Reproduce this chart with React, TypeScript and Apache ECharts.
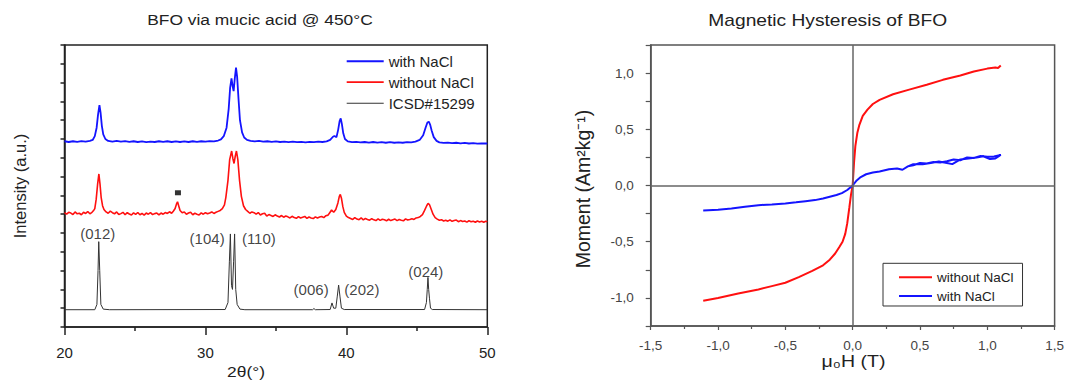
import React, { useEffect, useRef } from 'react';
import * as echarts from 'echarts';

// ---------- XRD panel (2θ in degrees, stacked intensity in offset units) ----------
const xrdWithNaCl: [number, number][] = [
  [20.0, 9.88], [20.3, 9.84], [20.6, 9.88], [20.9, 9.85], [21.2, 9.89], [21.5, 9.86], [21.8, 9.9], [22.0, 9.95],
  [22.15, 10.15], [22.28, 10.6], [22.38, 11.3], [22.48, 11.8], [22.56, 11.4], [22.65, 10.7], [22.75, 10.25], [22.9, 10.0],
  [23.1, 9.9], [23.4, 9.86], [23.7, 9.9], [24.0, 9.86], [24.3, 9.89], [24.6, 9.85], [24.9, 9.88], [25.2, 9.84],
  [25.5, 9.87], [25.8, 9.83], [26.1, 9.86], [26.4, 9.84], [26.7, 9.88], [27.0, 9.85], [27.3, 9.88], [27.6, 9.84],
  [27.9, 9.87], [28.2, 9.84], [28.5, 9.87], [28.8, 9.84], [29.1, 9.88], [29.4, 9.85], [29.7, 9.88], [30.0, 9.86],
  [30.3, 9.89], [30.6, 9.87], [30.9, 9.92], [31.1, 9.98], [31.3, 10.15], [31.5, 10.6], [31.65, 11.6], [31.75, 12.7],
  [31.85, 13.23], [31.93, 12.8], [32.0, 12.55], [32.08, 13.2], [32.17, 13.8], [32.25, 13.3], [32.35, 12.1], [32.45, 11.0],
  [32.6, 10.35], [32.75, 10.08], [32.95, 9.95], [33.2, 9.9], [33.5, 9.87], [33.8, 9.9], [34.1, 9.86], [34.4, 9.88],
  [34.7, 9.85], [35.0, 9.87], [35.3, 9.84], [35.6, 9.86], [35.9, 9.83], [36.2, 9.86], [36.5, 9.83], [36.8, 9.85],
  [37.1, 9.82], [37.4, 9.85], [37.7, 9.83], [38.0, 9.86], [38.3, 9.84], [38.6, 9.87], [38.85, 9.95], [39.05, 10.12],
  [39.15, 10.16], [39.3, 10.1], [39.42, 10.5], [39.52, 10.95], [39.6, 11.1], [39.68, 10.8], [39.78, 10.3], [39.9, 10.0],
  [40.1, 9.87], [40.4, 9.83], [40.7, 9.85], [41.0, 9.82], [41.3, 9.84], [41.6, 9.81], [41.9, 9.84], [42.2, 9.81],
  [42.5, 9.83], [42.8, 9.8], [43.1, 9.83], [43.4, 9.8], [43.7, 9.82], [44.0, 9.8], [44.3, 9.83], [44.6, 9.82],
  [44.9, 9.86], [45.2, 9.95], [45.45, 10.2], [45.62, 10.6], [45.75, 10.88], [45.85, 10.92], [45.95, 10.75], [46.05, 10.45],
  [46.2, 10.1], [46.4, 9.9], [46.6, 9.82], [46.9, 9.79], [47.2, 9.81], [47.5, 9.78], [47.8, 9.8], [48.1, 9.77],
  [48.4, 9.79], [48.7, 9.76], [49.0, 9.78], [49.3, 9.75], [49.6, 9.77], [50.0, 9.76],
];

const xrdWithoutNaCl: [number, number][] = [
  [20.0, 6.08], [20.15, 6.0], [20.3, 6.1], [20.45, 6.06], [20.6, 5.98], [20.75, 6.12], [20.9, 6.02], [21.05, 6.05],
  [21.2, 5.97], [21.35, 6.1], [21.5, 6.04], [21.65, 6.14], [21.8, 6.02], [21.95, 6.1], [22.05, 6.18], [22.15, 6.3],
  [22.25, 6.8], [22.35, 7.6], [22.44, 8.14], [22.52, 7.6], [22.6, 6.9], [22.7, 6.45], [22.8, 6.25], [22.95, 6.12],
  [23.1, 6.05], [23.25, 6.16], [23.4, 6.08], [23.55, 6.02], [23.7, 6.12], [23.85, 5.98], [24.0, 6.03], [24.15, 6.1],
  [24.3, 5.97], [24.45, 6.08], [24.6, 6.01], [24.75, 5.96], [24.9, 6.07], [25.05, 5.99], [25.2, 6.09], [25.35, 5.97],
  [25.5, 6.04], [25.65, 5.95], [25.8, 6.06], [25.95, 6.0], [26.1, 6.08], [26.25, 5.98], [26.4, 6.03], [26.55, 6.06],
  [26.7, 5.96], [26.85, 6.06], [27.0, 6.0], [27.15, 6.09], [27.3, 6.04], [27.45, 6.13], [27.6, 6.05], [27.72, 6.16],
  [27.85, 6.3], [27.95, 6.55], [28.02, 6.66], [28.1, 6.45], [28.2, 6.2], [28.35, 6.08], [28.5, 6.12], [28.65, 6.0],
  [28.8, 6.06], [28.95, 6.1], [29.1, 5.97], [29.25, 6.05], [29.4, 6.0], [29.55, 5.96], [29.7, 6.07], [29.85, 6.0],
  [30.0, 6.08], [30.15, 6.02], [30.3, 6.06], [30.45, 6.12], [30.6, 6.04], [30.75, 6.1], [30.9, 6.15], [31.05, 6.2],
  [31.2, 6.3], [31.35, 6.5], [31.45, 6.9], [31.6, 7.8], [31.72, 8.9], [31.86, 9.36], [31.95, 8.95], [32.03, 8.7],
  [32.12, 9.1], [32.2, 9.36], [32.3, 8.9], [32.42, 7.8], [32.55, 6.95], [32.7, 6.45], [32.85, 6.25], [33.0, 6.15],
  [33.15, 6.05], [33.3, 6.12], [33.45, 6.08], [33.6, 6.0], [33.75, 6.09], [33.9, 5.96], [34.05, 6.02], [34.2, 6.05],
  [34.35, 5.9], [34.5, 5.98], [34.65, 5.93], [34.8, 5.88], [34.95, 5.97], [35.1, 5.9], [35.25, 5.85], [35.4, 5.93],
  [35.55, 5.84], [35.7, 5.9], [35.85, 5.86], [36.0, 5.8], [36.15, 5.89], [36.3, 5.82], [36.45, 5.78], [36.6, 5.87],
  [36.75, 5.8], [36.9, 5.84], [37.05, 5.88], [37.2, 5.78], [37.35, 5.85], [37.5, 5.8], [37.65, 5.77], [37.8, 5.86],
  [37.95, 5.8], [38.1, 5.85], [38.25, 5.88], [38.4, 5.82], [38.55, 5.92], [38.7, 5.95], [38.82, 6.08], [38.95, 6.22],
  [39.1, 6.1], [39.25, 6.25], [39.4, 6.6], [39.5, 6.95], [39.57, 7.05], [39.65, 6.85], [39.75, 6.4], [39.85, 6.1],
  [40.0, 5.9], [40.15, 5.82], [40.3, 5.77], [40.45, 5.72], [40.6, 5.82], [40.75, 5.74], [40.9, 5.71], [41.05, 5.8],
  [41.2, 5.7], [41.35, 5.77], [41.5, 5.72], [41.65, 5.68], [41.8, 5.76], [41.95, 5.7], [42.1, 5.66], [42.25, 5.75],
  [42.4, 5.67], [42.55, 5.73], [42.7, 5.7], [42.85, 5.65], [43.0, 5.73], [43.15, 5.66], [43.3, 5.7], [43.45, 5.74],
  [43.6, 5.66], [43.75, 5.72], [43.9, 5.68], [44.05, 5.65], [44.2, 5.75], [44.35, 5.69], [44.5, 5.72], [44.65, 5.76],
  [44.8, 5.72], [44.95, 5.8], [45.1, 5.82], [45.25, 5.88], [45.4, 5.98], [45.55, 6.2], [45.7, 6.45], [45.8, 6.58],
  [45.9, 6.5], [46.0, 6.3], [46.15, 6.0], [46.3, 5.82], [46.45, 5.74], [46.6, 5.68], [46.75, 5.71], [46.9, 5.64],
  [47.05, 5.68], [47.2, 5.63], [47.35, 5.7], [47.5, 5.62], [47.65, 5.66], [47.8, 5.69], [47.95, 5.6], [48.1, 5.66],
  [48.25, 5.61], [48.4, 5.64], [48.55, 5.58], [48.7, 5.65], [48.85, 5.6], [49.0, 5.63], [49.15, 5.57], [49.3, 5.64],
  [49.45, 5.59], [49.6, 5.62], [49.75, 5.57], [49.9, 5.63], [50.0, 5.6],
];

const xrdICSD: [number, number][] = [
  [20.0, 0.92], [22.15, 0.92], [22.3, 1.2], [22.38, 3.0], [22.43, 4.54], [22.5, 3.0], [22.58, 1.2], [22.75, 0.95],
  [23.2, 0.92], [31.4, 0.93], [31.6, 1.3], [31.7, 3.5], [31.77, 4.95], [31.85, 2.2], [31.92, 2.0], [32.0, 3.5],
  [32.07, 4.95], [32.15, 2.0], [32.25, 1.2], [32.45, 0.95], [32.8, 0.92], [37.6, 0.92], [37.7, 0.98], [37.8, 0.92],
  [38.85, 0.93], [38.98, 1.28], [39.1, 1.0], [39.25, 1.0], [39.35, 1.6], [39.45, 2.23], [39.55, 1.6], [39.65, 1.0],
  [39.85, 0.93], [45.55, 0.93], [45.68, 1.3], [45.74, 2.0], [45.79, 2.64], [45.84, 2.0], [45.9, 1.5], [45.97, 1.0],
  [46.1, 0.93], [50.0, 0.92],
];

const impurityMark: [number, number][] = [[28.05, 7.14]];

const hklLabels = [
  { name: '(012)', value: [22.36, 4.98] },
  { name: '(104)', value: [30.12, 4.72] },
  { name: '(110)', value: [33.79, 4.72] },
  { name: '(006)', value: [37.5, 1.97] },
  { name: '(202)', value: [41.1, 2.02] },
  { name: '(024)', value: [45.64, 2.95] },
];

// ---------- Hysteresis panel (μ0H in T, moment in Am²/kg) ----------
const hystWithoutNaCl: [number, number][] = [
  [-1.11, -1.025], [-1.0, -1.0], [-0.85, -0.96], [-0.7, -0.925], [-0.6, -0.895], [-0.5, -0.865], [-0.4, -0.815],
  [-0.3, -0.76], [-0.22, -0.71], [-0.17, -0.66], [-0.13, -0.605], [-0.1, -0.55], [-0.075, -0.5], [-0.055, -0.43],
  [-0.04, -0.335], [-0.025, -0.2], [-0.012, -0.08], [0.0, 0.0], [0.01, 0.2], [0.02, 0.35], [0.035, 0.47],
  [0.05, 0.54], [0.075, 0.62], [0.11, 0.675], [0.15, 0.725], [0.2, 0.762], [0.3, 0.812], [0.42, 0.853],
  [0.55, 0.897], [0.67, 0.94], [0.8, 0.978], [0.9, 1.014], [1.0, 1.04], [1.06, 1.05], [1.08, 1.045], [1.1, 1.068],
];

const hystWithNaCl: [number, number][] = [
  [-1.11, -0.222], [-1.0, -0.215], [-0.9, -0.205], [-0.8, -0.19], [-0.7, -0.175], [-0.6, -0.168], [-0.5, -0.16],
  [-0.42, -0.15], [-0.35, -0.14], [-0.28, -0.13], [-0.22, -0.115], [-0.17, -0.1], [-0.12, -0.085], [-0.08, -0.068],
  [-0.04, -0.04], [0.0, 0.0], [0.03, 0.045], [0.06, 0.075], [0.1, 0.1], [0.15, 0.115], [0.2, 0.125], [0.27, 0.145],
  [0.33, 0.152], [0.37, 0.14], [0.41, 0.17], [0.45, 0.19], [0.52, 0.19], [0.58, 0.2], [0.64, 0.214], [0.7, 0.2],
  [0.74, 0.19], [0.8, 0.232], [0.86, 0.24], [0.92, 0.25], [0.97, 0.26], [1.02, 0.235], [1.06, 0.24], [1.1, 0.272],
  [1.05, 0.258], [1.0, 0.255], [0.95, 0.262], [0.9, 0.245], [0.85, 0.25], [0.8, 0.225], [0.75, 0.232], [0.7, 0.215],
  [0.65, 0.205], [0.6, 0.21], [0.55, 0.195], [0.5, 0.2], [0.45, 0.18], [0.41, 0.17],
];

const FONT = '"Liberation Sans", Arial, sans-serif';
const BLUE = '#1414ff';
const RED = '#ff1010';
const BLACK = '#222';

const commaFmt = (v: number) => v.toFixed(1).replace('.', ',');

export default function App() {
  const ref = useRef<HTMLDivElement>(null);

  useEffect(() => {
    if (!ref.current) return;
    const chart = echarts.init(ref.current, undefined, { renderer: 'svg' });

    const option: any = {
      animation: false,
      textStyle: { fontFamily: FONT },
      grid: [
        { left: 64.5, top: 45, width: 422.8, height: 282, show: true, borderColor: BLACK, borderWidth: 1.5, backgroundColor: 'transparent' },
        { left: 650.7, top: 45, width: 404.6, height: 281, show: true, borderColor: '#555', borderWidth: 1.5, backgroundColor: 'transparent' },
      ],
      xAxis: [
        {
          type: 'value', gridIndex: 0, min: 20, max: 50, interval: 10,
          axisLine: { show: true, onZero: false, lineStyle: { color: BLACK, width: 1.5 } },
          axisTick: { show: true, inside: false, length: 8, lineStyle: { color: BLACK, width: 1.5 } },
          minorTick: { show: true, splitNumber: 2, length: 4, lineStyle: { color: BLACK, width: 1.5 } },
          axisLabel: { margin: 18, fontSize: 15, color: BLACK, fontFamily: FONT },
          splitLine: { show: false },
        },
        {
          type: 'value', gridIndex: 1, min: -1.5, max: 1.5, interval: 0.5,
          axisLine: { show: true, onZero: false, lineStyle: { color: '#555', width: 1.5 } },
          axisTick: { show: true, inside: false, length: 4, lineStyle: { color: '#555', width: 1.2 } },
          minorTick: { show: true, splitNumber: 2, length: 3, lineStyle: { color: '#555', width: 1.2 } },
          axisLabel: { margin: 12, fontSize: 13.5, color: '#444', fontFamily: FONT, formatter: commaFmt },
          splitLine: { show: false },
        },
      ],
      yAxis: [
        {
          type: 'value', gridIndex: 0, min: 0, max: 15, interval: 1,
          axisLine: { show: true, onZero: false, lineStyle: { color: BLACK, width: 1.5 } },
          axisTick: { show: true, inside: false, length: 4, lineStyle: { color: BLACK, width: 1.5 } },
          axisLabel: { show: false },
          splitLine: { show: false },
        },
        {
          type: 'value', gridIndex: 1, min: -1.25, max: 1.25, interval: 0.25,
          axisLine: { show: true, onZero: false, lineStyle: { color: '#555', width: 1.5 } },
          axisTick: { show: true, inside: false, length: 5, lineStyle: { color: '#555', width: 1.2 } },
          axisLabel: {
            margin: 17, fontSize: 13.5, color: '#444', fontFamily: FONT,
            formatter: (v: number) => (Math.abs(v * 2 - Math.round(v * 2)) < 1e-6 ? commaFmt(v) : ''),
          },
          splitLine: { show: false },
        },
      ],
      legend: [
        {
          data: [
            { name: 'with NaCl', icon: 'path://M0,0H37V2H0Z' },
            { name: 'without NaCl', icon: 'path://M0,0H37V1.7H0Z' },
            { name: 'ICSD#15299', icon: 'path://M0,0H37V1.1H0Z' },
          ],
          orient: 'vertical', left: 346.7, top: 53.7, padding: 0,
          itemWidth: 37, itemHeight: 14, itemGap: 6,
          textStyle: { fontSize: 15, color: BLACK, fontFamily: FONT },
        },
        {
          data: [
            { name: 'without NaCl', icon: 'path://M0,0H33V2H0Z' },
            { name: 'with NaCl', icon: 'path://M0,0H33V2H0Z' },
          ],
          orient: 'vertical', left: 883, top: 263.3, padding: [7, 9, 3, 16],
          itemWidth: 33, itemHeight: 12, itemGap: 4.7,
          borderColor: '#333', borderWidth: 1, backgroundColor: '#fff',
          textStyle: { fontSize: 13.5, color: BLACK, fontFamily: FONT },
        },
      ],
      graphic: [
        {
          type: 'text', x: 260, y: 20, scaleX: 1.2, silent: true,
          style: { text: 'BFO via mucic acid @ 450°C', fill: BLACK, fontSize: 14.5, fontFamily: FONT, align: 'center', verticalAlign: 'middle' },
        },
        {
          type: 'text', x: 827.7, y: 21, scaleX: 1.2, silent: true,
          style: { text: 'Magnetic Hysteresis of BFO', fill: BLACK, fontSize: 16, fontFamily: FONT, align: 'center', verticalAlign: 'middle' },
        },
        {
          type: 'text', x: 246, y: 372, scaleX: 1.2, silent: true,
          style: { text: '2θ(°)', fill: BLACK, fontSize: 14.5, fontFamily: FONT, align: 'center', verticalAlign: 'middle' },
        },
        {
          type: 'text', x: 853.5, y: 361, scaleX: 1.15, silent: true,
          style: { text: 'μ₀H (T)', fill: BLACK, fontSize: 17, fontFamily: FONT, align: 'center', verticalAlign: 'middle' },
        },
        {
          type: 'text', x: 19.5, y: 186, rotation: Math.PI / 2, silent: true,
          style: { text: 'Intensity (a.u.)', fill: BLACK, fontSize: 16.5, fontFamily: FONT, align: 'center', verticalAlign: 'middle' },
        },
        {
          type: 'text', x: 583, y: 189, rotation: Math.PI / 2, silent: true,
          style: { text: 'Moment (Am²kg⁻¹)', fill: BLACK, fontSize: 19.5, fontFamily: FONT, align: 'center', verticalAlign: 'middle' },
        },
      ],
      series: [
        {
          name: 'with NaCl', type: 'line', xAxisIndex: 0, yAxisIndex: 0, data: xrdWithNaCl,
          symbol: 'none', color: BLUE, lineStyle: { color: BLUE, width: 1.8 }, z: 3,
        },
        {
          name: 'without NaCl', type: 'line', xAxisIndex: 0, yAxisIndex: 0, data: xrdWithoutNaCl,
          symbol: 'none', color: RED, lineStyle: { color: RED, width: 1.6 }, z: 3,
        },
        {
          name: 'ICSD#15299', type: 'line', xAxisIndex: 0, yAxisIndex: 0, data: xrdICSD,
          symbol: 'none', color: '#333', lineStyle: { color: '#333', width: 1 }, z: 3,
        },
        {
          name: 'impurity', type: 'scatter', xAxisIndex: 0, yAxisIndex: 0, data: impurityMark,
          symbol: 'rect', symbolSize: [6, 5], itemStyle: { color: '#000' }, z: 4,
        },
        {
          name: 'hkl', type: 'scatter', xAxisIndex: 0, yAxisIndex: 0, data: hklLabels,
          symbolSize: 0, silent: true,
          label: { show: true, position: 'inside', formatter: '{b}', fontSize: 15, color: '#111', fontFamily: FONT },
        },
        {
          name: 'zero', type: 'line', xAxisIndex: 1, yAxisIndex: 1, data: [], z: 1, silent: true,
          markLine: {
            silent: true, symbol: ['none', 'none'], label: { show: false },
            lineStyle: { color: '#666', width: 1.5, type: 'solid' },
            data: [{ xAxis: 0 }, { yAxis: 0 }],
          },
        },
        {
          name: 'without NaCl', type: 'line', xAxisIndex: 1, yAxisIndex: 1, data: hystWithoutNaCl,
          symbol: 'none', color: RED, lineStyle: { color: RED, width: 2 }, z: 3,
        },
        {
          name: 'with NaCl', type: 'line', xAxisIndex: 1, yAxisIndex: 1, data: hystWithNaCl,
          symbol: 'none', color: BLUE, lineStyle: { color: BLUE, width: 2 }, z: 3,
        },
      ],
    };

    chart.setOption(option);
    return () => chart.dispose();
  }, []);

  return (
    <div
      ref={ref}
      style={{ position: 'absolute', left: 0, top: 0, width: 1067, height: 382, background: '#fff' }}
    />
  );
}
